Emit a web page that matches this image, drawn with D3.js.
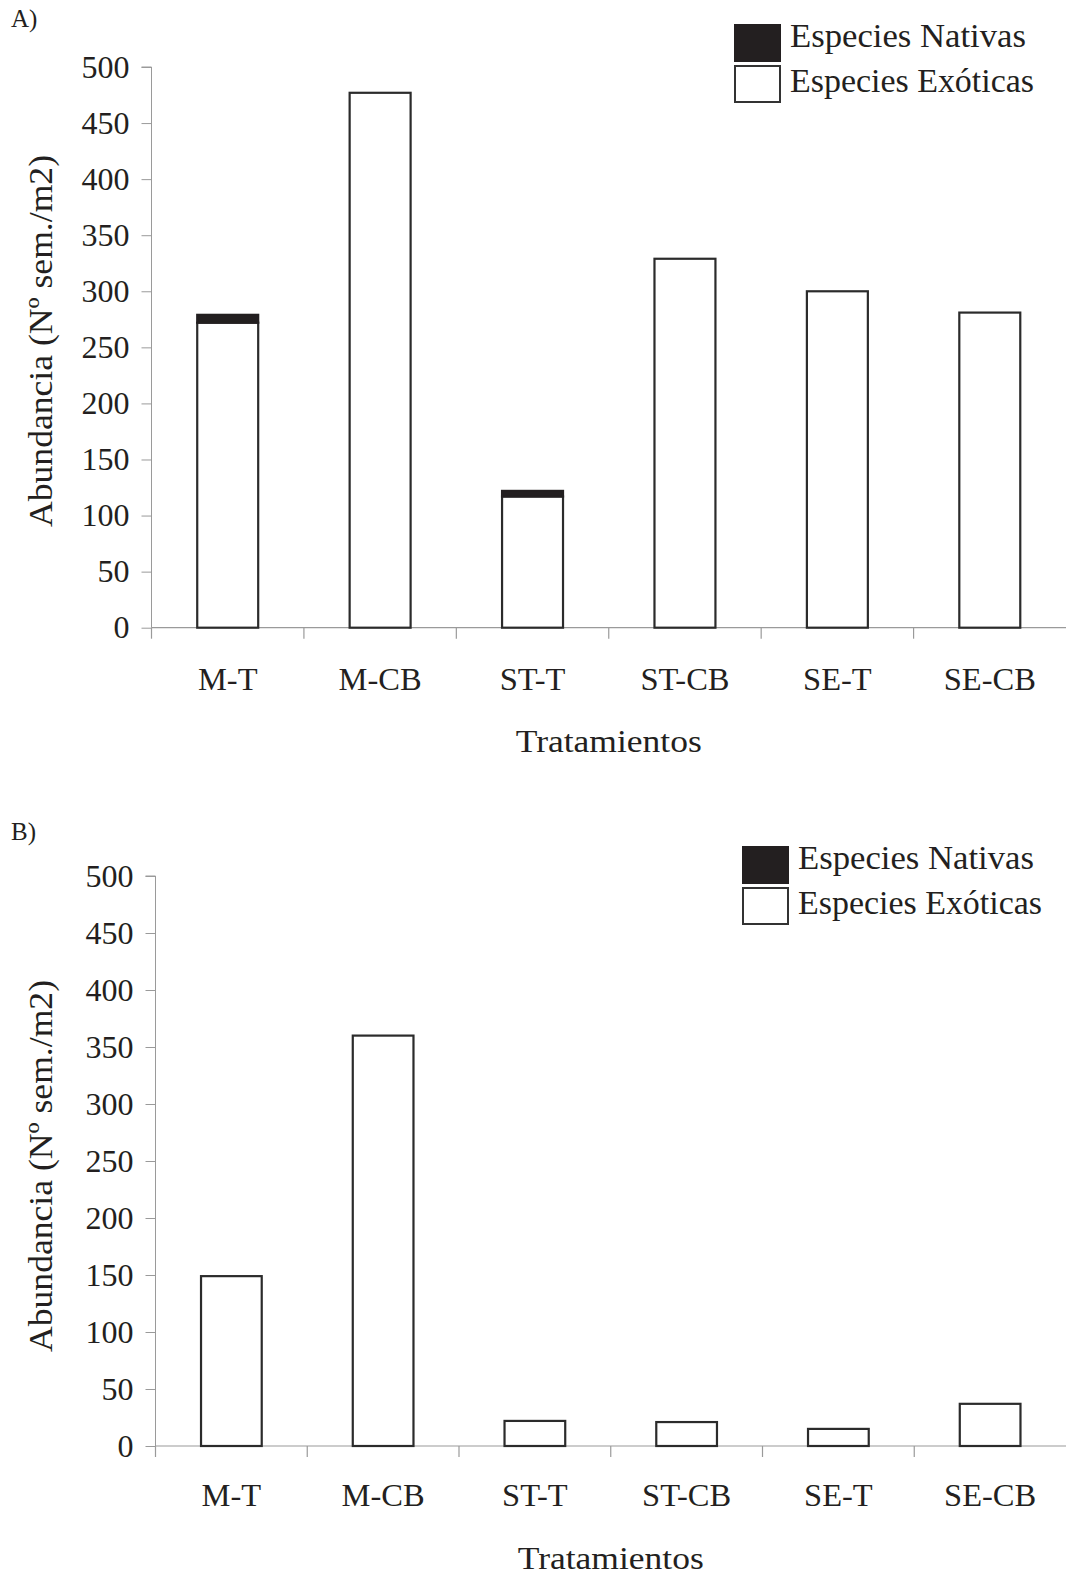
<!DOCTYPE html>
<html><head><meta charset="utf-8">
<script src="https://cdn.jsdelivr.net/npm/d3@7"></script>
<style>body{margin:0;background:#fff}svg{display:block}text{font-family:"Liberation Serif","Times New Roman",serif;fill:#231f20}</style>
</head><body>
<svg id="c" width="1066" height="1576"></svg>
<script>
const categories = ["M-T","M-CB","ST-T","ST-CB","SE-T","SE-CB"];
const exoticA = [272, 477, 117, 329, 300, 281];
const nativeA = [7, 0, 5, 0, 0, 0];
const exoticB = [149, 360, 22, 21, 15, 37];
const nativeB = [0, 0, 0, 0, 0, 0];
const yTicks = [0,50,100,150,200,250,300,350,400,450,500];
const legendLabels = ["Especies Nativas","Especies Exóticas"];
const panelLabels = ["A)","B)"];
const xTitle = "Tratamientos";
const yTitle = "Abundancia (Nº sem./m2)";

const svg = d3.select("#c");

function panel(cfg){
  const g = svg.append("g");
  const x = d3.scaleBand().domain(categories).range([cfg.x0, cfg.x1]).padding(0);
  const y = d3.scaleLinear().domain([0,500]).range([cfg.y0, cfg.yTop]);
  const axisColor = "#9a9a9a";
  const ya = g.append("g").attr("transform",`translate(${cfg.x0},0)`)
    .call(d3.axisLeft(y).tickValues(yTicks).tickSize(10).tickPadding(12).tickFormat(d3.format("d")));
  ya.select(".domain").attr("stroke",axisColor).attr("d",`M-10,${y(500)}H0V${y(0)}`);
  ya.selectAll(".tick line").attr("stroke",axisColor);
  ya.selectAll(".tick text").attr("font-size",32).attr("font-family","Liberation Serif").attr("fill","#231f20");
  g.append("line").attr("x1",cfg.x0).attr("x2",cfg.x1).attr("y1",y(0)).attr("y2",y(0)).attr("stroke",axisColor).attr("stroke-width",1.2);
  categories.forEach(c=>{
    g.append("line").attr("x1",x(c)).attr("x2",x(c)).attr("y1",y(0)).attr("y2",y(0)+11).attr("stroke",axisColor).attr("stroke-width",1.2);
    g.append("text").attr("x",x(c)+x.bandwidth()/2).attr("y",cfg.labY).attr("text-anchor","middle").attr("font-size",32.5).text(c);
  });
  const bw = x.bandwidth()*0.4;
  categories.forEach((c,i)=>{
    const bx = x(c)+x.bandwidth()/2 - bw/2;
    const ex = cfg.exotic[i], nt = cfg.native[i];
    g.append("rect").attr("x",bx).attr("y",y(ex)).attr("width",bw).attr("height",y(0)-y(ex))
      .attr("fill","#fff").attr("stroke","#2b2b2b").attr("stroke-width",2.2);
    if(nt>0){
      g.append("rect").attr("x",bx).attr("y",y(ex+nt)).attr("width",bw).attr("height",y(ex)-y(ex+nt))
        .attr("fill","#231f20").attr("stroke","#231f20").attr("stroke-width",2.2);
    }
  });
  g.append("text").attr("x",(cfg.x0+cfg.x1)/2).attr("y",cfg.titleY).attr("text-anchor","middle").attr("font-size",32)
    .attr("textLength",186).attr("lengthAdjust","spacingAndGlyphs").text(xTitle);
  g.append("text").attr("transform",`translate(${cfg.yTitleX},${cfg.yTitleCY}) rotate(-90)`).attr("text-anchor","middle").attr("font-size",33)
    .attr("textLength",372).attr("lengthAdjust","spacingAndGlyphs").text(yTitle);
  g.append("text").attr("x",11).attr("y",cfg.panelY).attr("font-size",25).text(cfg.panel);
  const lg = g.append("g");
  lg.append("rect").attr("x",cfg.lx).attr("y",cfg.ly).attr("width",45).attr("height",36).attr("fill","#231f20").attr("stroke","#231f20").attr("stroke-width",2);
  lg.append("rect").attr("x",cfg.lx).attr("y",cfg.ly+41).attr("width",45).attr("height",36).attr("fill","#fff").attr("stroke","#333").attr("stroke-width",2);
  lg.append("text").attr("x",cfg.lx+55).attr("y",cfg.ly+22).attr("font-size",33).attr("textLength",236).attr("lengthAdjust","spacingAndGlyphs").text(legendLabels[0]);
  lg.append("text").attr("x",cfg.lx+55).attr("y",cfg.ly+67).attr("font-size",33).attr("textLength",244).attr("lengthAdjust","spacingAndGlyphs").text(legendLabels[1]);
}

panel({x0:151.5,x1:1066,y0:627.7,yTop:67,exotic:exoticA,native:nativeA,labY:690,titleY:752,yTitleX:52,yTitleCY:341,panel:panelLabels[0],panelY:27,lx:735,ly:25});
panel({x0:155.5,x1:1066,y0:1446,yTop:876,exotic:exoticB,native:nativeB,labY:1506,titleY:1569,yTitleX:52,yTitleCY:1166,panel:panelLabels[1],panelY:840,lx:743,ly:847});
</script>
</body></html>
